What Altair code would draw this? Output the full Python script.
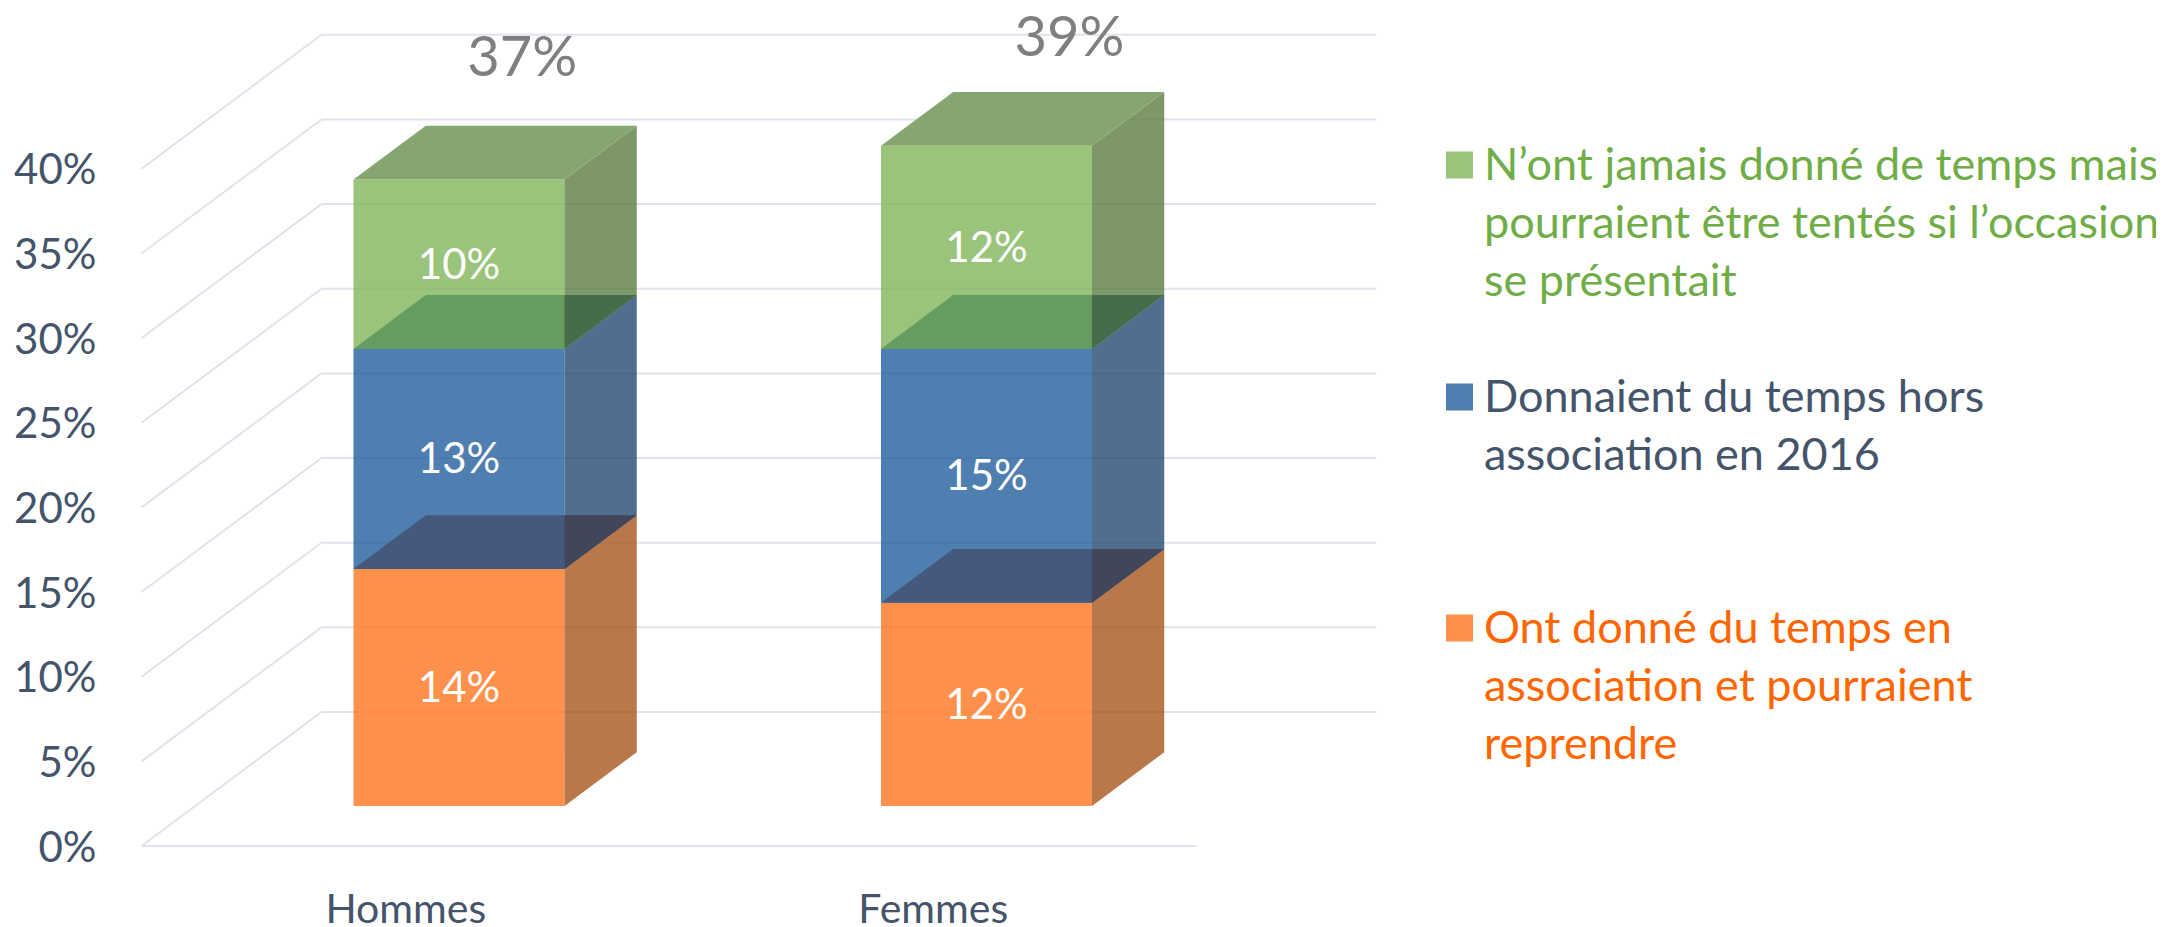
import altair as alt
import pandas as pd

# ---- values
categories = ["Hommes", "Femmes"]
orange_values = [14, 12]
blue_values = [13, 15]
green_values = [10, 12]
totals = [37, 39]
tick_values = [0, 5, 10, 15, 20, 25, 30, 35, 40]
segment_names = ["orange", "blue", "green"]
legend_lines = [
    ("green", ["N\u2019ont jamais donné de temps mais", "pourraient être tentés si l\u2019occasion", "se présentait"]),
    ("blue", ["Donnaient du temps hors", "association en 2016"]),
    ("orange", ["Ont donné du temps en", "association et pourraient", "reprendre"]),
]

# ---- layout
ORIGIN_X, ORIGIN_Y = 141.5, 846.0
UNIT_X, UNIT_Y = 527.5, 16.93
LEFT, TOP = 142, 8
WIDTH, HEIGHT = 2014, 872
DEPTH_X, DEPTH_Y = 180.0 / UNIT_X, 134.0 / UNIT_Y
D0, D1 = 0.2985, 0.70
BAR_W = 0.4
ALPHA = 0.8
x_dom = [(LEFT - ORIGIN_X) / UNIT_X, (LEFT + WIDTH - ORIGIN_X) / UNIT_X]
y_dom = [(ORIGIN_Y - (TOP + HEIGHT)) / UNIT_Y, (ORIGIN_Y - TOP) / UNIT_Y]
xs = alt.Scale(domain=x_dom, range=[0, WIDTH], nice=False, zero=False)
ys = alt.Scale(domain=y_dom, range=[HEIGHT, 0], nice=False, zero=False)


def ux(px):
    return (px - ORIGIN_X) / UNIT_X


def uy(py):
    return (ORIGIN_Y - py) / UNIT_Y


def under_alpha(hex_color):
    """Colour that, at ALPHA over white, shows as hex_color."""
    rgb = [int(hex_color[i:i + 2], 16) for i in (1, 3, 5)]
    out = [max(0, min(255, round((c - (1 - ALPHA) * 255) / ALPHA))) for c in rgb]
    return "#%02x%02x%02x" % tuple(out)


FRONT = {"orange": "#ff914d", "blue": "#4f7eb1", "green": "#9ac47c"}
SIDE = {"orange": "#b9774a", "blue": "#506e8e", "green": "#7d9769"}
TOPF = {"orange": "#44597b", "blue": "#659c5f", "green": "#87a66f"}
CORNER = {"orange": "#41465a", "blue": "#466c4b"}
LEGEND_SQ = {"orange": "#ff914d", "blue": "#4f7eb1", "green": "#9ac47c"}
LEGEND_TXT = {"orange": "#ff6600", "blue": "#44546a", "green": "#70ad47"}
AXIS_COLOR = "#44546a"
GRID_COLOR = "#e0e3eb"
FONT = "Lato"

# ---- grid
grid_rows = []
for v in tick_values:
    grid_rows.append(dict(x=0, x2=DEPTH_X, y=v, y2=v + DEPTH_Y))
    grid_rows.append(dict(x=DEPTH_X, x2=2 + DEPTH_X, y=v + DEPTH_Y, y2=v + DEPTH_Y))
grid_rows.append(dict(x=0, x2=2, y=0, y2=0))
grid_df = pd.DataFrame(grid_rows)

# ---- bar faces
vert, horiz, corner, seg_labels, tot_labels = [], [], [], [], []
series_vals = {"orange": orange_values, "blue": blue_values, "green": green_values}
tot_dx = [0.2216, 0.259]
tot_lift = [3.93, 3.14]
seg_drop = 0.09
for i, cat in enumerate(categories):
    cx = i + 0.5
    x0 = cx - BAR_W / 2 + D0 * DEPTH_X
    x1 = x0 + BAR_W
    dx = (D1 - D0) * DEPTH_X
    dy = (D1 - D0) * DEPTH_Y
    base = 0.0
    floor = D0 * DEPTH_Y
    for name in segment_names:
        val = series_vals[name][i]
        lo, hi = base + floor, base + val + floor
        fid = f"{cat}-{name}"
        vert += [dict(face=fid + "-f", x=x0, y=lo, y2=hi, color=under_alpha(FRONT[name])),
                 dict(face=fid + "-f", x=x1, y=lo, y2=hi, color=under_alpha(FRONT[name])),
                 dict(face=fid + "-s", x=x1, y=lo, y2=hi, color=under_alpha(SIDE[name])),
                 dict(face=fid + "-s", x=x1 + dx, y=lo + dy, y2=hi + dy, color=under_alpha(SIDE[name]))]
        horiz += [dict(face=fid, x=x0, x2=x1, y=hi, color=TOPF[name]),
                  dict(face=fid, x=x0 + dx, x2=x1 + dx, y=hi + dy, color=TOPF[name])]
        if name in CORNER:
            corner += [dict(face=fid, x=x1, y=hi, y2=hi + dy, color=CORNER[name]),
                       dict(face=fid, x=x1 + dx, y=hi + dy, y2=hi + dy, color=CORNER[name])]
        seg_labels.append(dict(x=cx + D0 * DEPTH_X, y=(lo + hi) / 2 - seg_drop, t=f"{val}%"))
        base += val
    tot_labels.append(dict(x=cx + tot_dx[i], y=base + D1 * DEPTH_Y + tot_lift[i], t=f"{totals[i]}%"))

vert_df = pd.DataFrame(vert)
horiz_df = pd.DataFrame(horiz)
corner_df = pd.DataFrame(corner)
seg_df = pd.DataFrame(seg_labels)
tot_df = pd.DataFrame(tot_labels)

# ---- legend (placed in chart units)
LEG_SQ_PX = 1459.5
LEG_TX_PX = 1484
LEG_Y_PX = {"green": 165, "blue": 397, "orange": 628}
LINE_PX = 58
leg_txt, leg_sq = [], []
for name, lines in legend_lines:
    y0 = LEG_Y_PX[name]
    leg_sq.append(dict(x=ux(LEG_SQ_PX), y=uy(y0), color=LEGEND_SQ[name]))
    for k, line in enumerate(lines):
        leg_txt.append(dict(x=ux(LEG_TX_PX), y=uy(y0 + 1 + k * LINE_PX), t=line, color=LEGEND_TXT[name]))
leg_txt_df = pd.DataFrame(leg_txt)
leg_sq_df = pd.DataFrame(leg_sq)

# ---- axes
x_axis = alt.Axis(values=[0.5, 1.5], labelExpr="datum.value < 1 ? 'Hommes' : 'Femmes'",
                  title=None, domain=False, ticks=False, grid=False, labelFont=FONT, labelFontSize=41,
                  labelColor=AXIS_COLOR, labelPadding=42, labelBaseline="alphabetic", labelFlush=False,
                  labelAngle=0)
y_axis = alt.Axis(values=tick_values, labelExpr="datum.value + '%'", title=None, domain=False,
                  ticks=False, grid=False, labelFont=FONT, labelFontSize=42, labelColor=AXIS_COLOR,
                  labelPadding=46, labelOffset=2)
X = alt.X("x:Q", scale=xs, axis=x_axis)
Y = alt.Y("y:Q", scale=ys, axis=y_axis)

grid = alt.Chart(grid_df).mark_rule(color=GRID_COLOR, strokeWidth=2).encode(
    x=X, x2="x2:Q", y=Y, y2="y2:Q")
faces = alt.Chart(vert_df).mark_area(opacity=ALPHA).encode(
    x=X, y=Y, y2="y2:Q", color=alt.Color("color:N", scale=None), detail="face:N")
tops = alt.Chart(horiz_df).mark_area(orient="horizontal").encode(
    x=X, x2="x2:Q", y=Y, color=alt.Color("color:N", scale=None), detail="face:N")
corners = alt.Chart(corner_df).mark_area().encode(
    x=X, y=Y, y2="y2:Q", color=alt.Color("color:N", scale=None), detail="face:N")
seg_text = alt.Chart(seg_df).mark_text(font=FONT, fontSize=42, color="white", baseline="middle").encode(
    x=X, y=Y, text="t:N")
tot_text = alt.Chart(tot_df).mark_text(font=FONT, fontSize=56, color="#7f7f7f", baseline="middle").encode(
    x=X, y=Y, text="t:N")
sq = alt.Chart(leg_sq_df).mark_square(size=729, opacity=1).encode(
    x=X, y=Y, color=alt.Color("color:N", scale=None))
leg = alt.Chart(leg_txt_df).mark_text(font=FONT, fontSize=45, align="left", baseline="middle").encode(
    x=X, y=Y, text="t:N", color=alt.Color("color:N", scale=None))

chart = alt.layer(grid, faces, tops, corners, seg_text, tot_text, sq, leg).properties(
    width=WIDTH, height=HEIGHT,
    autosize=alt.AutoSizeParams(type="none"),
    padding={"left": LEFT - 8, "top": TOP - 8, "right": 0, "bottom": 47},
    background="white",
).configure_view(stroke=None)

chart.save("out.html", embed_options={"renderer": "svg", "actions": False})
